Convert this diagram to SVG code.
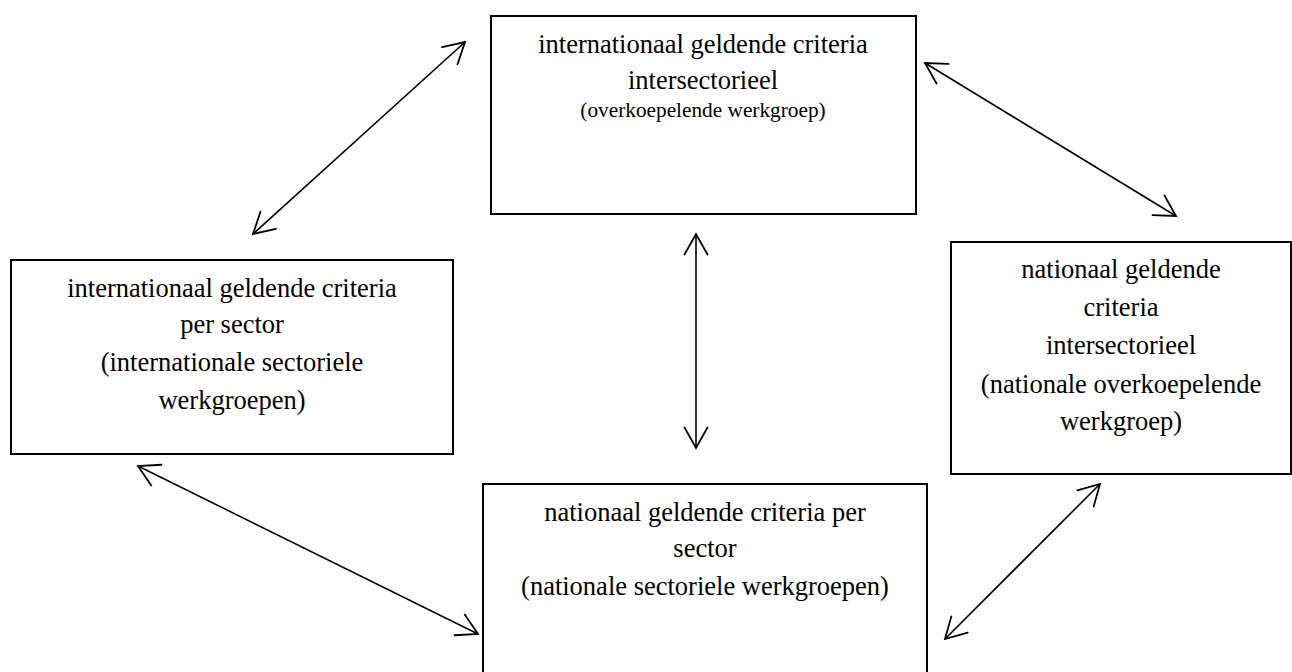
<svg xmlns="http://www.w3.org/2000/svg" width="1292" height="672" viewBox="0 0 1292 672">
  <style>
    .box { fill: #ffffff; stroke: #000000; stroke-width: 2; }
    .lbl { font-family: "Liberation Serif", "Times New Roman", serif; font-size: 26.5px; fill: #000000; text-anchor: middle; }
    .sm { font-size: 21.3px; }
    .conn { stroke: #000000; stroke-width: 1.6; fill: none; marker-start: url(#arr); marker-end: url(#arr); }
  </style>
  <defs>
    <marker id="arr" markerUnits="userSpaceOnUse" markerWidth="30" markerHeight="30" viewBox="-26 -15 30 30" refX="0" refY="0" orient="auto-start-reverse" overflow="visible">
      <path d="M -20.5,-11.5 L 0,0 L -20.5,11.5" fill="none" stroke="#000000" stroke-width="1.8" stroke-linecap="round" stroke-linejoin="miter"/>
    </marker>
  </defs>
  <rect x="0" y="0" width="1292" height="672" fill="#ffffff"/>

  <g id="node-top">
    <rect class="box" x="491" y="16" width="425" height="198"/>
    <text class="lbl" x="703" y="53">internationaal geldende criteria</text>
    <text class="lbl" x="703" y="89">intersectorieel</text>
    <text class="lbl sm" x="703" y="117">(overkoepelende werkgroep)</text>
  </g>

  <g id="node-left">
    <rect class="box" x="11" y="260" width="442" height="194"/>
    <text class="lbl" x="232" y="297">internationaal geldende criteria</text>
    <text class="lbl" x="232" y="333">per sector</text>
    <text class="lbl" x="232" y="371">(internationale sectoriele</text>
    <text class="lbl" x="232" y="409">werkgroepen)</text>
  </g>

  <g id="node-right">
    <rect class="box" x="951" y="242" width="340" height="232"/>
    <text class="lbl" x="1121" y="278">nationaal geldende</text>
    <text class="lbl" x="1121" y="316">criteria</text>
    <text class="lbl" x="1121" y="354">intersectorieel</text>
    <text class="lbl" x="1121" y="393">(nationale overkoepelende</text>
    <text class="lbl" x="1121" y="430">werkgroep)</text>
  </g>

  <g id="node-bottom">
    <rect class="box" x="483" y="484" width="444" height="200"/>
    <text class="lbl" x="705" y="521">nationaal geldende criteria per</text>
    <text class="lbl" x="705" y="557">sector</text>
    <text class="lbl" x="705" y="595">(nationale sectoriele werkgroepen)</text>
  </g>

  <g id="connectors">
    <line class="conn" x1="253" y1="234" x2="465" y2="42"/>
    <line class="conn" x1="925" y1="63" x2="1176" y2="216"/>
    <line class="conn" x1="696" y1="234" x2="696" y2="448"/>
    <line class="conn" x1="138" y1="466" x2="478" y2="634"/>
    <line class="conn" x1="1100" y1="484" x2="945" y2="639"/>
  </g>
</svg>
